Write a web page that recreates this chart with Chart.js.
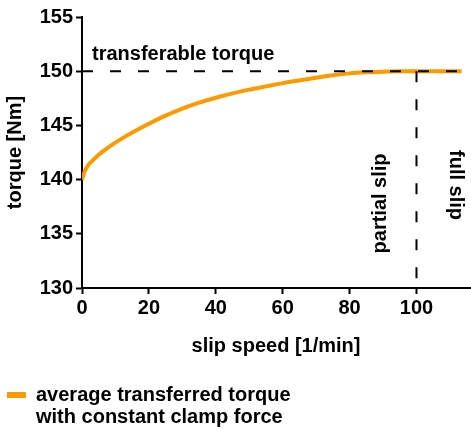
<!DOCTYPE html>
<html>
<head>
<meta charset="utf-8">
<script src="https://cdn.jsdelivr.net/npm/chart.js@4.4.1/dist/chart.umd.min.js"></script>
<style>
  html, body { margin: 0; padding: 0; background: #fff; }
  #wrap { width: 471px; height: 430px; position: relative; }
</style>
</head>
<body>
<div id="wrap"><canvas id="chart"></canvas></div>
<script>
// slip speed [1/min] and average transferred torque [Nm]
var slip = [0, 0.5, 1, 2, 3, 5, 8, 12, 16, 20, 25, 30, 35, 40, 45, 50, 55, 60, 65, 70, 75, 80, 85, 90, 95, 100, 105, 110, 113.5];
var torque = [140.0, 140.5, 140.9, 141.4, 141.7, 142.3, 143.0, 143.8, 144.5, 145.15, 145.9, 146.55, 147.1, 147.55, 147.95, 148.3, 148.6, 148.9, 149.15, 149.4, 149.62, 149.8, 149.9, 149.96, 150.0, 150.0, 150.0, 150.0, 150.0];

var transferable = 150;   // torque limit
var slipLimit = 100;      // partial slip / full slip border
var xTicks = [0, 20, 40, 60, 80, 100];
var yTicks = [130, 135, 140, 145, 150, 155];
var legendLines = ["average transferred torque", "with constant clamp force"];

var orange = "#FF9900";
var fontFam = "'Liberation Sans', Arial, sans-serif";

var points = [];
for (var i = 0; i < slip.length; i++) {
  points.push({ x: slip[i], y: torque[i] });
}

// dashed lines, region labels and the legend
var extras = {
  id: "extras",
  afterDatasetsDraw: function(chart) {
    var ctx = chart.ctx;
    var xs = chart.scales.x;
    var ys = chart.scales.y;
    var area = chart.chartArea;
    var yLim = ys.getPixelForValue(transferable);
    var xLim = xs.getPixelForValue(slipLimit);

    ctx.save();
    ctx.strokeStyle = "#000";
    ctx.lineWidth = 2;
    ctx.setLineDash([11, 17]);
    ctx.beginPath();
    ctx.moveTo(area.left, yLim);
    ctx.lineTo(area.right, yLim);
    ctx.stroke();
    ctx.beginPath();
    ctx.moveTo(xLim, yLim);
    ctx.lineTo(xLim, area.bottom);
    ctx.stroke();
    ctx.setLineDash([]);

    ctx.fillStyle = "#000";
    ctx.font = "bold 20px " + fontFam;
    ctx.textAlign = "left";
    ctx.textBaseline = "alphabetic";
    ctx.fillText("transferable torque", area.left + 10, yLim - 11);

    ctx.textAlign = "center";
    ctx.textBaseline = "middle";
    ctx.save();
    ctx.translate(xLim - 36, ys.getPixelForValue(137.8));
    ctx.rotate(-Math.PI / 2);
    ctx.fillText("partial slip", 0, 0);
    ctx.restore();
    ctx.save();
    ctx.translate(xLim + 39, ys.getPixelForValue(139.5));
    ctx.rotate(Math.PI / 2);
    ctx.fillText("full slip", 0, 0);
    ctx.restore();

    // legend
    ctx.fillStyle = orange;
    ctx.fillRect(7, 392, 19, 6);
    ctx.fillStyle = "#000";
    ctx.textAlign = "left";
    ctx.textBaseline = "alphabetic";
    ctx.fillText(legendLines[0], 36, 401);
    ctx.fillText(legendLines[1], 36, 423);
    ctx.restore();
  }
};

var axisFont = { family: fontFam, size: 20, weight: "bold" };

new Chart(document.getElementById("chart"), {
  type: "line",
  data: {
    datasets: [{
      label: legendLines.join(" "),
      data: points,
      borderColor: orange,
      backgroundColor: orange,
      borderWidth: 4,
      pointRadius: 0,
      cubicInterpolationMode: "monotone",
      fill: false
    }]
  },
  options: {
    responsive: true,
    maintainAspectRatio: false,
    animation: false,
    layout: { padding: { top: 17, right: 1, bottom: 70, left: 0 } },
    plugins: {
      legend: { display: false },
      tooltip: { enabled: false }
    },
    scales: {
      x: {
        type: "linear",
        min: 0,
        max: 116,
        afterBuildTicks: function(scale) {
          scale.ticks = xTicks.map(function(v) { return { value: v }; });
        },
        afterFit: function(scale) { scale.height = 72; },
        ticks: { color: "#000", font: axisFont, padding: 2, maxRotation: 0 },
        grid: { drawOnChartArea: false, drawTicks: true, tickLength: 6, tickColor: "#000", tickWidth: 2 },
        border: { display: true, color: "#000", width: 2 },
        title: { display: true, text: "slip speed [1/min]", color: "#000", font: axisFont, padding: { top: 0, bottom: 2 } }
      },
      y: {
        min: 130,
        max: 155,
        afterBuildTicks: function(scale) {
          scale.ticks = yTicks.map(function(v) { return { value: v }; });
        },
        afterFit: function(scale) { scale.width = 82; },
        ticks: { color: "#000", font: axisFont, padding: 3 },
        grid: { drawOnChartArea: false, drawTicks: true, tickLength: 6, tickColor: "#000", tickWidth: 2 },
        border: { display: true, color: "#000", width: 2 },
        title: { display: true, text: "torque [Nm]", color: "#000", font: axisFont, padding: { top: 3, bottom: 0 } }
      }
    }
  },
  plugins: [extras]
});
</script>
</body>
</html>
